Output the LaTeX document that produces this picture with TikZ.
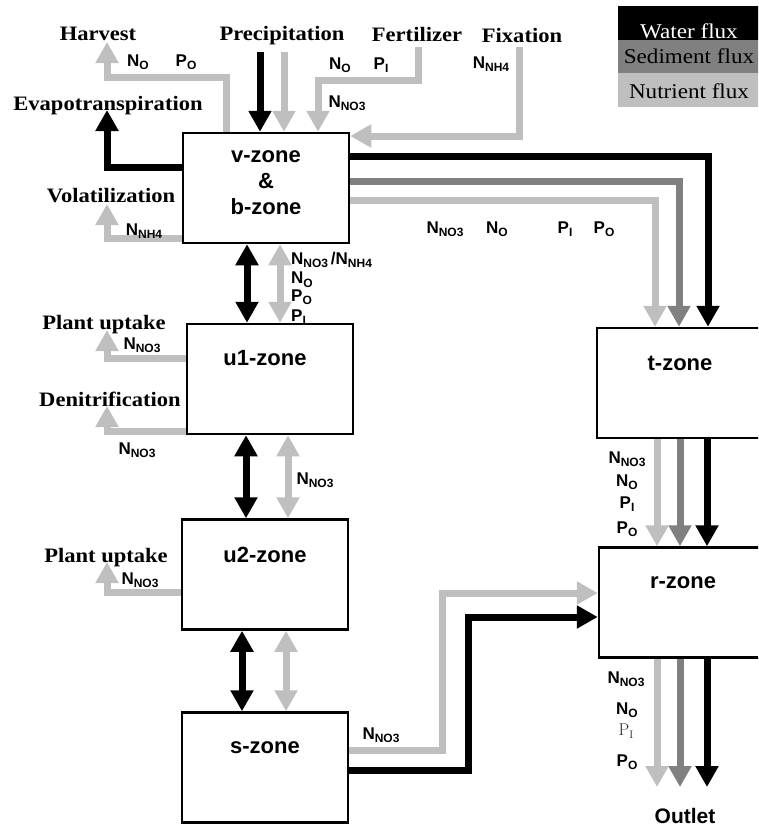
\documentclass[tikz,border=0pt]{standalone}
\usepackage{fontspec}
\setmainfont{Liberation Serif}
\setsansfont{Liberation Sans}
\newfontfamily\widerm[FakeStretch=1.1]{Liberation Serif}
\usetikzlibrary{arrows.meta}
\definecolor{sedgray}{gray}{0.5}
\definecolor{nutgray}{gray}{0.75}
\newcommand{\species}[2]{#1\raisebox{-3.5pt}{\fontsize{12}{12}\selectfont #2}}
\tikzset{
  zone/.style={draw, line width=2.5pt, minimum width=166pt, minimum height=110pt, inner sep=0pt},
  zonetxt/.style={font=\sffamily\bfseries\fontsize{22}{26}\selectfont, align=center, inner sep=0pt},
  process/.style={font=\widerm\bfseries\fontsize{20.5}{24}\selectfont, inner sep=0pt, text height=14pt, text depth=0pt},
  spec/.style={font=\sffamily\bfseries\fontsize{17}{20}\selectfont, inner sep=0pt, text height=12pt, text depth=0pt},
  legbox/.style={minimum width=142pt, inner sep=0pt},
  legtxt/.style={font=\widerm\fontsize{21}{24}\selectfont, inner sep=0pt},
  fluxtip/.style={-{Triangle[width=22pt,length=21pt]}},
  twoway/.style={{Triangle[width=22pt,length=21pt]}-{Triangle[width=22pt,length=21pt]}},
  water/.style={line width=7pt, black, fluxtip},
  sediment/.style={line width=7pt, sedgray, fluxtip},
  nutrient/.style={line width=7pt, nutgray, fluxtip},
}
\begin{document}
\begin{tikzpicture}[x=1pt, y=-1pt]
  \useasboundingbox (0,0) rectangle (758,830);
  \clip (0,0) rectangle (758,830);

  % legend
  \node[legbox, fill=black, minimum height=34pt] (legw) at (689,23) {};
  \node[legbox, fill=sedgray, minimum height=33pt] (legs) at (689,56.5) {};
  \node[legbox, fill=nutgray, minimum height=34pt] (legn) at (689,90) {};
  \node[legtxt, text=white] (legwtxt) at (689,31) {Water flux};
  \node[legtxt] (legstxt) at (689,56) {Sediment flux};
  \node[legtxt] (legntxt) at (689,91) {Nutrient flux};

  % zones
  \node[zone] (v) at (266,188) {};
  \node[zone] (u1) at (270,379) {};
  \node[zone] (u2) at (265,574.5) {};
  \node[zone] (s) at (265,767.5) {};
  \node[zone, minimum width=172pt] (t) at (683,383) {};
  \node[zone, minimum width=172pt] (r) at (685,602.5) {};
  \node[zonetxt] (vtxt) at (266,183) {v-zone\\\&\\b-zone};
  \node[zonetxt] (u1txt) at (265,358) {u1-zone};
  \node[zonetxt] (u2txt) at (265,555) {u2-zone};
  \node[zonetxt] (stxt) at (265,748) {s-zone};
  \node[zonetxt] (ttxt) at (680,363) {t-zone};
  \node[zonetxt] (rtxt) at (683,583) {r-zone};

  % processes
  \node[process] (harvest) at (98,33) {Harvest};
  \node[process] (precip) at (282,33) {Precipitation};
  \node[process] (fert) at (417,34) {Fertilizer};
  \node[process] (fix) at (522,35) {Fixation};
  \node[process] (evap) at (108,103) {Evapotranspiration};
  \node[process] (volat) at (111,195) {Volatilization};
  \node[process] (upt1) at (104,322) {Plant uptake};
  \node[process] (denit) at (110,399) {Denitrification};
  \node[process] (upt2) at (106,555) {Plant uptake};
  \node[font=\sffamily\bfseries\fontsize{21}{24}\selectfont, inner sep=0pt] (outlet) at (685,816) {Outlet};

  % free ends
  \coordinate (precip-w) at (260,52);
  \coordinate (precip-n) at (284,52);
  \coordinate (fert-src) at (418,47);
  \coordinate (fix-src) at (519,47);
  \coordinate (harv-tip) at (107,42);
  \coordinate (evap-tip) at (107,110);
  \coordinate (volat-tip) at (107,204);
  \coordinate (upt1-tip) at (107,330);
  \coordinate (denit-tip) at (107,406);
  \coordinate (upt2-tip) at (107,562);

  % fluxes into and out of the v-zone
  \draw[water] (precip-w) -- (precip-w |- v.north);
  \draw[nutrient] (precip-n) -- (precip-n |- v.north);
  \draw[nutrient] (fert-src) |- (318,80) -- (v.north -| 318,0);
  \draw[nutrient] (fix-src) |- (v.east |- 0,136);
  \draw[nutrient] (v.north -| 226,0) |- (107,77) -- (harv-tip);
  \draw[water] (v.west |- 0,167) -| (evap-tip);
  \draw[nutrient] (v.west |- 0,238) -| (volat-tip);
  \draw[water] (v.east |- 0,156) -| (t.north -| 708,0);
  \draw[sediment] (v.east |- 0,181) -| (t.north -| 679,0);
  \draw[nutrient] (v.east |- 0,200) -| (t.north -| 655,0);

  % soil column
  \draw[water, twoway] (v.south -| 247,0) -- (u1.north -| 247,0);
  \draw[nutrient, twoway] (v.south -| 280,0) -- (u1.north -| 280,0);
  \draw[water, twoway] (u1.south -| 246,0) -- (u2.north -| 246,0);
  \draw[nutrient, twoway] (u1.south -| 288,0) -- (u2.north -| 288,0);
  \draw[water, twoway] (u2.south -| 242,0) -- (s.north -| 242,0);
  \draw[nutrient, twoway] (u2.south -| 286,0) -- (s.north -| 286,0);
  \draw[nutrient] (u1.west |- 0,358) -| (upt1-tip);
  \draw[nutrient] (u1.west |- 0,431) -| (denit-tip);
  \draw[nutrient] (u2.west |- 0,592) -| (upt2-tip);

  % s-zone to r-zone
  \draw[nutrient] (s.east |- 0,750) -| (442,593) -- (r.west |- 0,593);
  \draw[water] (s.east |- 0,770) -| (468,617) -- (r.west |- 0,617);

  % t-zone to r-zone to outlet
  \foreach \x/\sty in {657/nutrient, 680/sediment, 707/water}
  {
    \coordinate (out-\x) at (\x,787);
    \draw[\sty] (t.south -| \x,0) -- (r.north -| \x,0);
    \draw[\sty] (r.south -| \x,0) -- (out-\x);
  }

  % species labels
  \node[spec] (harvNO) at (138,60) {\species{N}{O}};
  \node[spec] (harvPO) at (186,60) {\species{P}{O}};
  \node[spec] (fertNO) at (340,63) {\species{N}{O}};
  \node[spec] (fertPI) at (381,63) {\species{P}{I}};
  \node[spec] (fertNO3) at (347,101) {\species{N}{NO3}};
  \node[spec] (fixNH4) at (491,62) {\species{N}{NH4}};
  \node[spec] (volNH4) at (144,229) {\species{N}{NH4}};
  \node[spec] (vtNO3) at (445,227) {\species{N}{NO3}};
  \node[spec] (vtNO) at (497,227) {\species{N}{O}};
  \node[spec] (vtPI) at (565,227) {\species{P}{I}};
  \node[spec] (vtPO) at (604,227) {\species{P}{O}};
  \node[spec, anchor=west] (vuNO3) at (291,258) {\species{N}{NO3}\,/\species{N}{NH4}};
  \node[spec, anchor=west] (vuNO) at (291,277.5) {\species{N}{O}};
  \node[spec, anchor=west] (vuPO) at (291,295) {\species{P}{O}};
  \node[spec, anchor=west] (vuPI) at (291,315) {\species{P}{I}};
  \node[spec] (upt1NO3) at (142,343) {\species{N}{NO3}};
  \node[spec] (denitNO3) at (137,448) {\species{N}{NO3}};
  \node[spec] (uuNO3) at (315,478) {\species{N}{NO3}};
  \node[spec] (upt2NO3) at (140,578) {\species{N}{NO3}};
  \node[spec] (sNO3) at (381,733) {\species{N}{NO3}};
  \node[spec] (trNO3) at (627,457) {\species{N}{NO3}};
  \node[spec] (trNO) at (627,480) {\species{N}{O}};
  \node[spec] (trPI) at (627,502) {\species{P}{I}};
  \node[spec] (trPO) at (627,527) {\species{P}{O}};
  \node[spec] (outNO3) at (626,677) {\species{N}{NO3}};
  \node[spec] (outNO) at (627,708) {\species{N}{O}};
  \node[inner sep=0pt, text=black!85, font=\fontfamily{lmr}\fontsize{17}{20}\selectfont] (outPI) at (626,731) {P\raisebox{-3pt}{\fontsize{11}{11}\selectfont I}};
  \node[spec] (outPO) at (627,760) {\species{P}{O}};
\end{tikzpicture}
\end{document}
